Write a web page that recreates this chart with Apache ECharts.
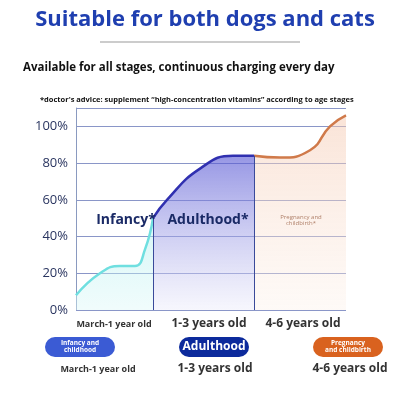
<!DOCTYPE html><html><head><meta charset="utf-8"><script src="https://cdn.jsdelivr.net/npm/echarts@6/dist/echarts.min.js"></script></head><body style="margin:0"><div id="c" style="width:416px;height:416px"></div><script>
const yTicks=[0,20,40,60,80,100];
const infancy=[[0,8],[24,20],[44,24],[59,24],[69,33],[77,50]];
const adult=[[77,50],[91,60],[124,77],[157,84],[178,84]];
const preg=[[178,84],[204,83],[234,87],[254,100],[270,106]];
const stageTop=['March-1 year old','1-3 years old','4-6 years old'];
const pills=['Infancy and\nchildhood','Adulthood','Pregnancy\nand childbirth'];
const F='"Open Sans",sans-serif';
function grad(a,b){return {type:'linear',x:0,y:0,x2:0,y2:1,colorStops:[{offset:0,color:a},{offset:1,color:b}]};}
function ser(d,col,a,b,ml){return {type:'line',smooth:true,symbol:'none',data:d,lineStyle:{color:col,width:2.5},areaStyle:{color:grad(a,b)},
 markLine:ml?{silent:true,symbol:'none',label:{show:false},lineStyle:{color:'#3a4a9a',width:1,type:'solid'},data:[[{coord:ml[0]},{coord:ml[1]}]]}:undefined,z:3};}
const ch=echarts.init(document.getElementById('c'));
const pillCols=['#3b5bd4','#0c2a9c','#d9621f'];
const px=[80,214,348],tw=[34,14,14];
const g=[{type:'line',shape:{x1:100,y1:42,x2:300,y2:42},style:{stroke:'#999',lineWidth:1}}];
pills.forEach((p,i)=>{g.push({type:'rect',shape:{x:px[i]-35,y:337,width:70,height:20,r:10},style:{fill:pillCols[i]}});
 g.push({type:'text',x:px[i],y:347,style:{text:p,fill:'#fff',font:(i==1?'bold 12px ':'bold 6.5px ')+F,align:'center',verticalAlign:'middle',lineHeight:7}});});
[[98,'bold 9px',stageTop[0]],[215,'bold 12px',stageTop[1]],[350,'bold 12px',stageTop[2]]].forEach(t=>g.push({type:'text',x:t[0],y:369,style:{text:t[2],fill:'#333',font:t[1]+' '+F,align:'center',verticalAlign:'middle'}}));
[[114,'bold 9px',stageTop[0]],[209,'bold 12px',stageTop[1]],[303,'bold 12px',stageTop[2]]].forEach(t=>g.push({type:'text',x:t[0],y:324,style:{text:t[2],fill:'#333',font:t[1]+' '+F,align:'center',verticalAlign:'middle'}}));
g.push({type:'text',x:126,y:220,style:{text:'Infancy*',fill:'#1a2a66',font:'bold 14px '+F,align:'center',verticalAlign:'middle'},z:10});
g.push({type:'text',x:208,y:220,style:{text:'Adulthood*',fill:'#1a2a66',font:'bold 14px '+F,align:'center',verticalAlign:'middle'},z:10});
g.push({type:'text',x:301,y:220,style:{text:'Pregnancy and\nchildbirth*',fill:'#b0806a',font:'6px '+F,align:'center',verticalAlign:'middle'},z:10});
ch.setOption({
 title:[{text:'Suitable for both dogs and cats',left:200,top:4,textAlign:'center',textStyle:{color:'#1f3fb0',fontSize:22,fontWeight:'bold',fontFamily:F}},
  {text:'Available for all stages, continuous charging every day',left:18,top:57,textStyle:{color:'#111',fontSize:11.5,fontWeight:'bold',fontFamily:F}},
  {text:'*doctor\'s advice: supplement \u201chigh-concentration vitamins\u201d according to age stages',left:35,top:91,textStyle:{color:'#111',fontSize:7.5,fontWeight:'bold',fontFamily:F}}],
 graphic:g,
 grid:{left:76,top:108,width:270,height:202},
 xAxis:{type:'value',min:0,max:270,show:false},
 yAxis:{type:'value',min:0,max:110,interval:20,axisLine:{show:true,lineStyle:{color:'#8a9ac0'}},axisTick:{show:false},
  axisLabel:{formatter:v=>v>100?'':v+'%',color:'#2a3560',fontSize:13,fontFamily:F},splitLine:{lineStyle:{color:'#8a96c8',width:1}}},
 series:[ser(infancy,'#6fdfe0','rgba(160,235,235,0.6)','rgba(220,248,248,0.6)',null),
  ser(adult,'#3030b0','rgba(80,80,210,0.85)','rgba(235,235,250,0.6)',[[77,0],[77,50]]),
  ser(preg,'#d07a4a','rgba(245,200,175,0.7)','rgba(252,240,232,0.5)',[[178,0],[178,84]])]
});
</script></body></html>
